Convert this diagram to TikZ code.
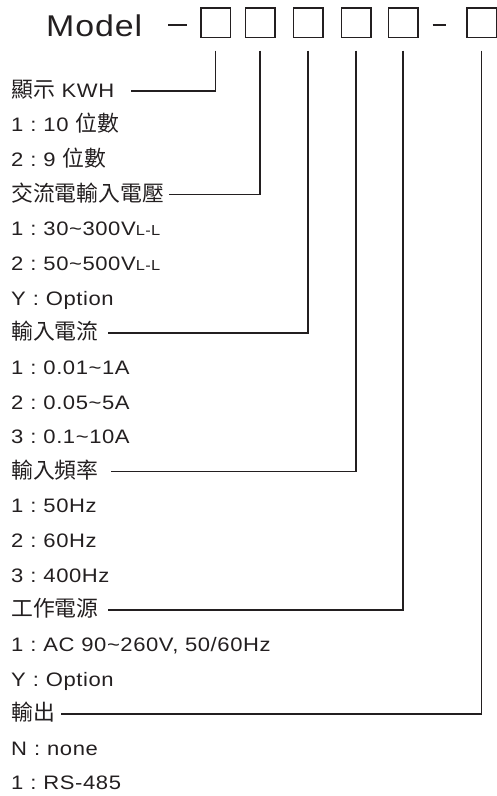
\documentclass[tikz,border=0pt]{standalone}
\usepackage{fontspec}
\usepackage{xcolor}
\usetikzlibrary{positioning, calc}
\setmainfont[FakeStretch=1.13, LetterSpace=3]{Liberation Sans}
\newfontfamily\cjk[Scale=1.12]{Noto Sans CJK TC}
\definecolor{ink}{HTML}{231F20}
\newcommand{\colonzh}{\makebox[20pt]{:}}
\newcommand{\sub}[1]{{\fontsize{14.5}{14.5}\selectfont #1}}

\begin{document}
\begin{tikzpicture}[x=1pt, y=-1pt,
  codebox/.style={rectangle, draw=ink, line width=1.5pt, minimum size=29.5pt, inner sep=0pt},
  item/.style={anchor=base west, inner sep=0pt, text=ink, font=\fontsize{19.5}{19.5}\selectfont},
  link/.style={draw=ink, line width=1.8pt},
  dashline/.style={draw=ink, line width=1.6pt}
]
  \useasboundingbox (0,0) rectangle (496,796);

  % Title and code boxes
  \node[item, font=\fontsize{30}{30}\selectfont] (model) at (46,36.5) {Model};
  \node[codebox] (b1) at (215.5,22.5) {};
  \node[codebox] (b2) at (260,22.5) {};
  \node[codebox] (b3) at (308,22.5) {};
  \node[codebox] (b4) at (356,22.5) {};
  \node[codebox] (b5) at (403,22.5) {};
  \node[codebox] (b6) at (481.5,22.5) {};
  \draw[dashline] ([xshift=-32pt, yshift=-2.5pt]b1.west) -- ([xshift=-13pt, yshift=-2.5pt]b1.west);
  \draw[dashline] ([xshift=14pt, yshift=-2.5pt]b5.east) -- ([xshift=-20pt, yshift=-2.5pt]b6.west);

  % Display
  \node[item] (kwh) at (11,97.3) {{\cjk 顯示} KWH};
  \node[item] (kwh1) at (11,131.9) {1\colonzh10 {\cjk 位數}};
  \node[item] (kwh2) at (11,166.6) {2\colonzh9 {\cjk 位數}};

  % Input voltage
  \node[item] (volt) at (11,201.2) {\cjk 交流電輸入電壓};
  \node[item] (volt1) at (11,235.8) {1\colonzh30\textasciitilde300V\sub{L-L}};
  \node[item] (volt2) at (11,270.5) {2\colonzh50\textasciitilde500V\sub{L-L}};
  \node[item] (volty) at (11,305.1) {Y\colonzh Option};

  % Input current
  \node[item] (amp) at (11,339.7) {\cjk 輸入電流};
  \node[item] (amp1) at (11,374.3) {1\colonzh0.01\textasciitilde1A};
  \node[item] (amp2) at (11,409.0) {2\colonzh0.05\textasciitilde5A};
  \node[item] (amp3) at (11,443.6) {3\colonzh0.1\textasciitilde10A};

  % Input frequency
  \node[item] (freq) at (11,478.2) {\cjk 輸入頻率};
  \node[item] (freq1) at (11,512.9) {1\colonzh50Hz};
  \node[item] (freq2) at (11,547.5) {2\colonzh60Hz};
  \node[item] (freq3) at (11,582.1) {3\colonzh400Hz};

  % Power supply
  \node[item] (pwr) at (11,616.7) {\cjk 工作電源};
  \node[item] (pwr1) at (11,651.4) {1\colonzh AC 90\textasciitilde260V, 50/60Hz};
  \node[item] (pwry) at (11,686.0) {Y\colonzh Option};

  % Output
  \node[item] (out) at (11,720.6) {\cjk 輸出};
  \node[item] (outn) at (11,755.3) {N\colonzh none};
  \node[item] (out1) at (11,789.9) {1\colonzh RS-485};

  % Leaders
  \draw[link] ([yshift=-12.5pt]b1.south) |- ([xshift=17pt, yshift=6.7pt]kwh.base east);
  \draw[link] ([yshift=-12.5pt]b2.south) |- ([xshift=5pt, yshift=6.7pt]volt.base east);
  \draw[link] ([yshift=-12.5pt]b3.south) |- ([xshift=9pt, yshift=6.7pt]amp.base east);
  \draw[link] ([yshift=-12.5pt]b4.south) |- ([xshift=12pt, yshift=6.7pt]freq.base east);
  \draw[link] ([yshift=-12.5pt]b5.south) |- ([xshift=9pt, yshift=6.7pt]pwr.base east);
  \draw[link] ([yshift=-12.5pt]b6.south) |- ([xshift=6pt, yshift=6.7pt]out.base east);
\end{tikzpicture}
\end{document}
